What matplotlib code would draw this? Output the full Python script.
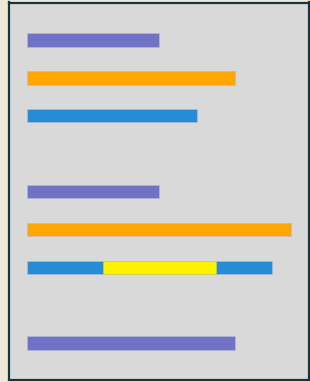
import matplotlib
matplotlib.use("Agg")
import matplotlib.pyplot as plt

# row slots from top to bottom (slots 3 and 7 are empty)
rows = [0, 1, 2, 4, 5, 6, 8]
values = [7, 11, 9, 7, 14, 13, 11]
colors = ['#6f72c5', '#ffa600', '#268cd6', '#6f72c5', '#ffa600', '#268cd6', '#6f72c5']

# highlighted segment on row 6
hl_row = 6
hl_start = 4
hl_end = 10
hl_color = '#fff200'

fig = plt.figure(figsize=(3.10, 3.82), dpi=100)
fig.patch.set_facecolor('#efe8d6')
ax = fig.add_axes([8.5 / 310, 2.5 / 382, 300.5 / 310, 377 / 382])
ax.set_facecolor('#d9d9d9')

ax.barh(rows, values, height=0.35, color=colors, edgecolor='#b8bcd8', linewidth=0.4)
ax.barh([hl_row], [hl_end - hl_start], left=hl_start, height=0.35,
        color=hl_color, edgecolor='#d8d040', linewidth=0.4)

ax.set_xlim(-1.0, 14.95)
ax.set_ylim(8.96, -0.99)
ax.set_xticks([])
ax.set_yticks([])
for s in ax.spines.values():
    s.set_color('#15363e')
    s.set_linewidth(1.6)

fig.savefig('out.png', dpi=100, facecolor=fig.get_facecolor())
